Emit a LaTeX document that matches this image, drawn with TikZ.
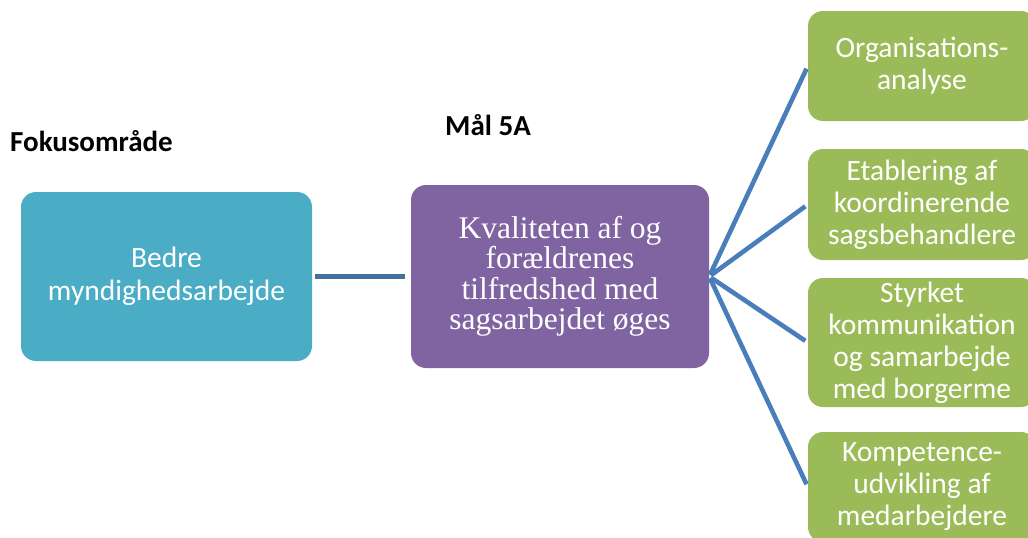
\documentclass[tikz,border=0pt]{standalone}
\usepackage{fontspec}
\setmainfont{Carlito}
\newfontfamily\serifx{Liberation Serif}
\definecolor{aqua}{HTML}{4BACC6}
\definecolor{violet}{HTML}{8064A2}
\definecolor{olive}{HTML}{9BBB59}
\definecolor{linkdark}{HTML}{41719C}
\definecolor{linkblue}{HTML}{4A7EBB}
\tikzset{
  box/.style={rounded corners=15pt, text=white, align=center, inner sep=0pt},
  focusbox/.style={box, fill=aqua, minimum width=291pt, minimum height=169pt,
    font=\fontsize{29.5}{33}\selectfont},
  goalbox/.style={box, fill=violet, minimum width=298pt, minimum height=183pt,
    font=\serifx\fontsize{31.5}{30.5}\selectfont},
  actbox/.style={box, fill=olive, minimum width=228pt,
    font=\fontsize{29.5}{32}\selectfont},
  heading/.style={font=\bfseries\fontsize{29}{30}\selectfont, inner sep=0pt},
  link/.style={line width=4.6pt},
}
\begin{document}
\begin{tikzpicture}[x=1pt,y=-1pt]
\useasboundingbox (0,0) rectangle (1028,538);
\clip (0,0) rectangle (1028,538);
\node[heading, anchor=base west] (hfocus) at (10,151) {Fokusområde};
\node[heading, anchor=base west] (hgoal) at (445,135) {Mål 5A};
\node[focusbox] (focus) at (166.5,276.5) {Bedre\\myndighedsarbejde};
\node[goalbox] (goal) at (560,276.5) {Kvaliteten af og\\forældrenes\\tilfredshed med\\sagsarbejdet øges};
\node[actbox, minimum height=110pt] (a1) at (922,66) {Organisations-\\analyse};
\node[actbox, minimum height=111pt] (a2) at (922,204.5) {Etablering af\\koordinerende\\sagsbehandlere};
\node[actbox, minimum height=129pt] (a3) at (922,342.5) {Styrket\\kommunikation\\og samarbejde\\med borgerme};
\node[actbox, minimum height=110pt] (a4) at (922,487) {Kompetence-\\udvikling af\\medarbejdere};
\draw[link, linkdark, shorten <=3pt, shorten >=6pt] (focus.east) -- (goal.west);
\foreach \t in {a1,a2,a3,a4}
  \draw[link, linkblue, shorten <=2pt, shorten >=3pt] (goal.east) -- (\t.west);
\end{tikzpicture}
\end{document}
